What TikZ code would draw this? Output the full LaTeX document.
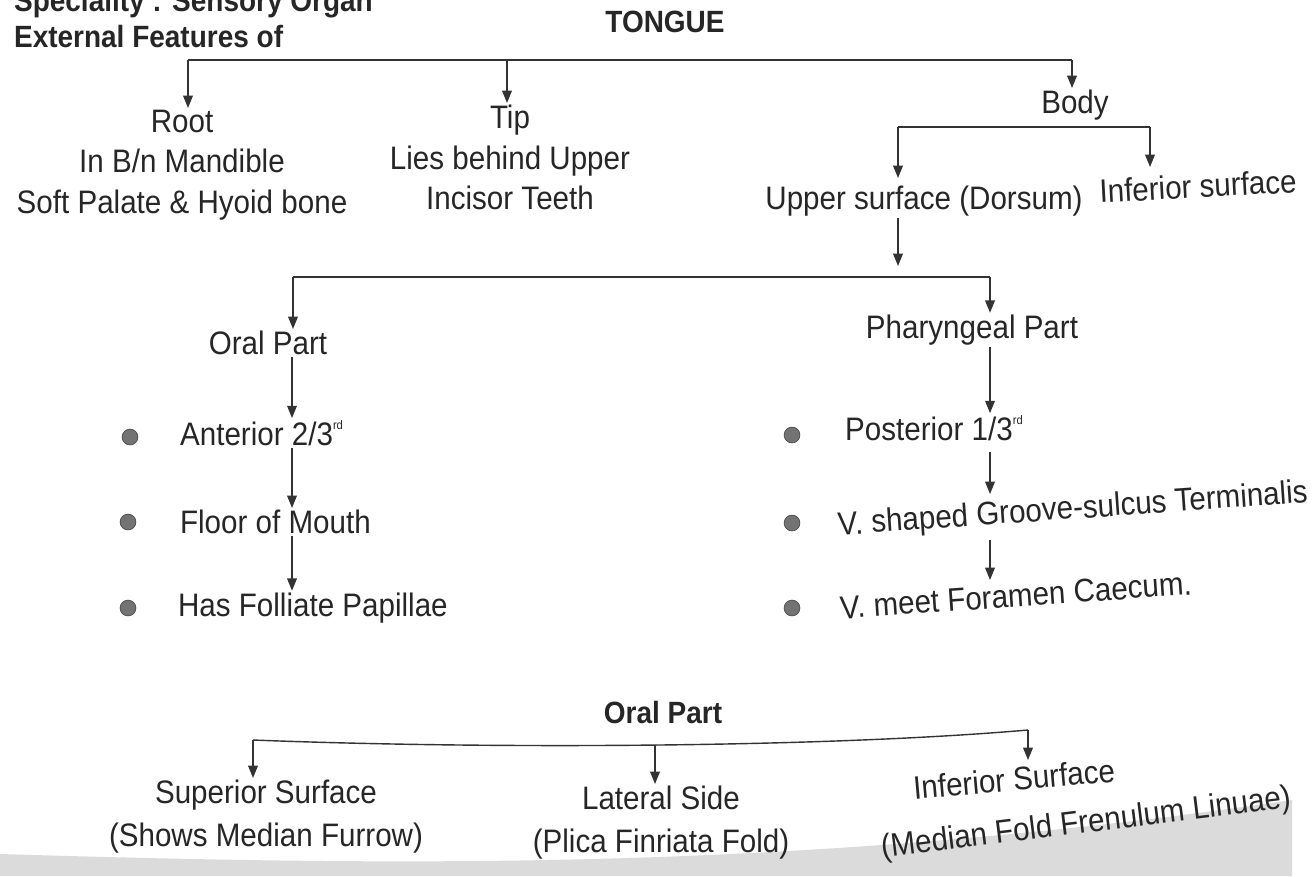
\documentclass[tikz,border=0pt]{standalone}
\usepackage{fontspec}
\setmainfont{Liberation Sans}[FakeStretch=0.91]
\usetikzlibrary{arrows.meta}

\newcommand{\ordsup}[1]{\raisebox{0.95ex}{\fontsize{7}{7}\selectfont #1}}

\begin{document}
\begin{tikzpicture}[x=0.02cm, y=-0.02cm,
    every node/.style={font=\fontsize{18.5}{23}\selectfont, text=black!85, inner sep=1pt},
    lbl/.style={align=center},
    hdr/.style={font=\fontsize{17.5}{22}\selectfont\bfseries},
    arr/.style={-{Triangle[length=7pt,width=5.5pt]}, line width=0.8pt, draw=black!80},
    bar/.style={line width=0.8pt, draw=black!80},
    dot/.style={circle, fill=black!55, draw=black!70, minimum size=9pt, inner sep=0pt}]
  \useasboundingbox (0,0) rectangle (1314,876);

  % page shadow at the bottom
  \fill[gray!28] (0,854) .. controls (400,866) and (800,872) .. (1292,800) -- (1292,876) -- (0,876) -- cycle;

  % headings
  \node[hdr, anchor=base west] (spec) at (12,11) {Speciality : Sensory Organ};
  \node[hdr, anchor=west] (extfeat) at (12,37) {External Features of};
  \node[hdr] (tongue) at (665,22) {TONGUE};

  % first level
  \coordinate (tbarL) at (188,60);
  \coordinate (tbarR) at (1072,60);
  \draw[bar] (tbarL) -- (tbarR);
  \node[lbl, anchor=north] (root) at (182,108) {Root\\In B/n Mandible\\Soft Palate \& Hyoid bone};
  \node[lbl, anchor=north] (tip) at (510,103) {Tip\\Lies behind Upper\\Incisor Teeth};
  \node[anchor=north] (body) at (1075,88) {Body};
  \draw[arr] (tbarL) -- (root.north -| tbarL);
  \draw[arr] (tbarL -| 507,0) -- (tip.north -| 507,0);
  \draw[arr] (tbarR) -- (body.north -| tbarR);

  % body
  \coordinate (bbarL) at (898,127);
  \coordinate (bbarR) at (1150,127);
  \draw[bar] (bbarL) -- (bbarR);
  \node (upper) at (924,201) {Upper surface (Dorsum)};
  \node[rotate=3] (inferior) at (1198,186) {Inferior surface};
  \draw[arr] (bbarL) -- (898,178);
  \draw[arr] (bbarR) -- (1150,167);

  % dorsum
  \coordinate (dbarL) at (293,277);
  \coordinate (dbarR) at (990,277);
  \draw[arr] (upper.south -| bbarL) -- (898,266);
  \draw[bar] (dbarL) -- (dbarR);
  \node (oral) at (268,343) {Oral Part};
  \node (pharyn) at (972,330) {Pharyngeal Part};
  \draw[arr] (dbarL) -- (oral.north -| dbarL);
  \draw[arr] (dbarR) -- (pharyn.north -| dbarR);

  % oral part chain
  \node[anchor=west] (ant) at (178,433) {Anterior 2/3\ordsup{rd}};
  \node[anchor=west] (floor) at (178,522) {Floor of Mouth};
  \node[anchor=west] (foliate) at (176,608) {Has Folliate Papillae};
  \node[dot] (d1) at (130,437) {};
  \node[dot] (d2) at (128,522) {};
  \node[dot] (d3) at (128,608) {};
  \draw[arr] (oral.south -| 292,0) -- (ant.north -| 292,0);
  \draw[arr] (ant.south -| 292,0) -- (floor.north -| 292,0);
  \draw[arr] (floor.south -| 292,0) -- (foliate.north -| 292,0);

  % pharyngeal part chain
  \node[anchor=west] (post) at (843,428) {Posterior 1/3\ordsup{rd}};
  \node[anchor=west, rotate=4] (groove) at (836,527) {V. shaped Groove-sulcus Terminalis};
  \node[anchor=west, rotate=4] (caecum) at (838,608) {V. meet Foramen Caecum.};
  \node[dot] (d4) at (792,435) {};
  \node[dot] (d5) at (792,523) {};
  \node[dot] (d6) at (792,608) {};
  \draw[arr] (pharyn.south -| 990,0) -- (post.north -| 990,0);
  \draw[arr] (990,452) -- (990,494);
  \draw[arr] (990,540) -- (990,580);

  % oral part, surfaces
  \node[hdr] (oral2) at (663,712) {Oral Part};
  \coordinate (obarL) at (253,740);
  \coordinate (obarM) at (655,746);
  \coordinate (obarR) at (1028,730);
  \draw[bar] (obarL) .. controls (480,749) and (820,748) .. (obarR);
  \node[lbl, anchor=north, font=\fontsize{18.5}{24.5}\selectfont] (superior) at (266,778) {Superior Surface\\(Shows Median Furrow)};
  \node[lbl, anchor=north, font=\fontsize{18.5}{24.5}\selectfont] (lateral) at (661,784) {Lateral Side\\(Plica Finriata Fold)};
  \node[rotate=5, inner sep=0pt] (infsurf) at (1014,779) {Inferior Surface};
  \node[rotate=7, inner sep=0pt] (infnote) at (1086,824) {(Median Fold Frenulum Linuae)};
  \draw[arr] (obarL) -- (superior.north -| obarL);
  \draw[arr] (obarM) -- (lateral.north -| obarM);
  \draw[arr] (obarR) -- (1028,760);
\end{tikzpicture}
\end{document}
